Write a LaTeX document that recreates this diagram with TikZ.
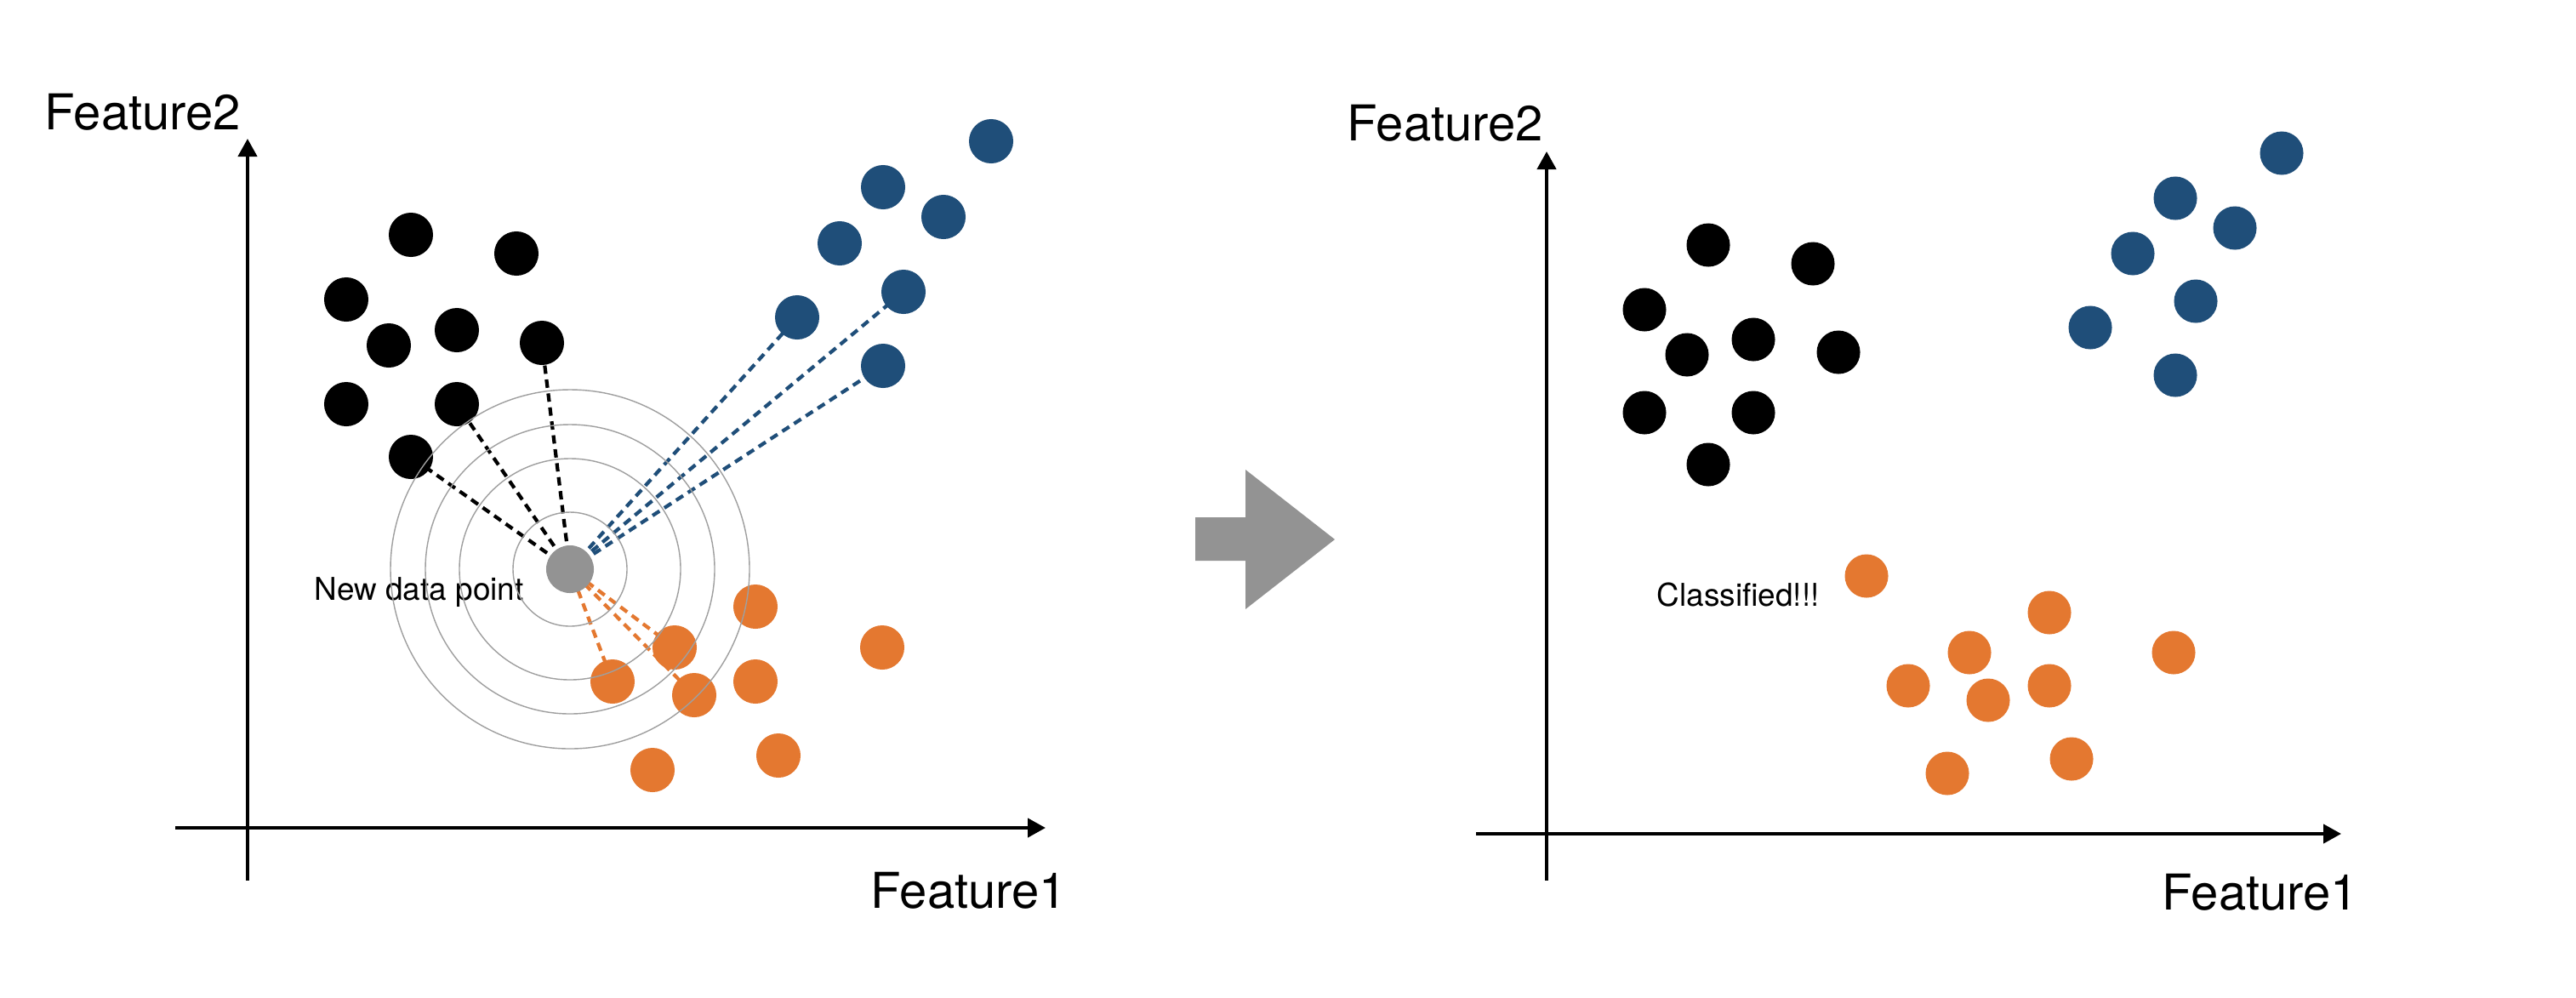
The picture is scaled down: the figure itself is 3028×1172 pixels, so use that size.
\documentclass[tikz,border=0pt]{standalone}
\usepackage{fontspec}
\setmainfont{TeX Gyre Heros}
\usetikzlibrary{arrows.meta}
\definecolor{dotblue}{HTML}{1F4E79}
\definecolor{dotorange}{HTML}{E47830}
\definecolor{ptgray}{HTML}{939393}
\begin{document}
\begin{tikzpicture}[x=0.01cm,y=-0.01cm,
  pt/.style={circle,inner sep=0pt,minimum size=0.52cm},
  kdot/.style={pt,fill=black},
  bdot/.style={pt,fill=dotblue},
  odot/.style={pt,fill=dotorange},
  rpt/.style={circle,inner sep=0pt,minimum size=0.51cm},
  rkdot/.style={rpt,fill=black},
  rbdot/.style={rpt,fill=dotblue},
  rodot/.style={rpt,fill=dotorange},
  axis/.style={line width=1.2pt,-{Triangle[length=0.21cm,width=0.22cm]}},
  knn/.style={line width=1.2pt,dash pattern=on 2.8pt off 1.9pt},
  ring/.style={gray!75,line width=0.4pt},
  biglab/.style={font=\fontsize{16.5}{18}\selectfont,inner sep=0pt,anchor=base west},
  smalllab/.style={font=\fontsize{10.5}{12}\selectfont,inner sep=0pt,anchor=base west}]
\useasboundingbox (0,0) rectangle (3028,1172);
\fill[white] (0,0) rectangle (3028,1172);

% ---------- left panel ----------
\coordinate (ly0) at (291,1035);
\coordinate (ly1) at (291,163);
\coordinate (lx0) at (206,973);
\coordinate (lx1) at (1229,973);
\draw[axis] (ly0) -- (ly1);
\draw[axis] (lx0) -- (lx1);
\node[biglab] (lf2) at (52,152) {Feature2};
\node[biglab] (lf1) at (1023,1067) {Feature1};

\coordinate (newc) at (670,669);

% data point coordinates
\coordinate (k1c) at (483,276);
\coordinate (k2c) at (607,298);
\coordinate (k3c) at (407,352);
\coordinate (k4c) at (457,406);
\coordinate (k5c) at (537,388);
\coordinate (k6c) at (637,403);
\coordinate (k7c) at (407,475);
\coordinate (k8c) at (537,475);
\coordinate (k9c) at (483,537);

% dashed neighbour links (under dots)
\draw[knn,black] (newc) -- (k9c);
\draw[knn,black] (newc) -- (k8c);
\draw[knn,black] (newc) -- (k6c);
\draw[knn,dotblue] (newc) -- (937,373) coordinate (b6c);
\draw[knn,dotblue] (newc) -- (1062,343) coordinate (b5c);
\draw[knn,dotblue] (newc) -- (1038,430) coordinate (b7c);
\draw[knn,dotorange,shorten <=0.1cm] (newc) -- (720,801) coordinate (o4c);
\draw[knn,dotorange,shorten <=0.08cm] (newc) -- (816,817) coordinate (o5c);
\draw[knn,dotorange,shorten <=0.08cm] (newc) -- (793,761) coordinate (o2c);

\node[kdot] (k1) at (k1c) {};
\node[kdot] (k2) at (k2c) {};
\node[kdot] (k3) at (k3c) {};
\node[kdot] (k4) at (k4c) {};
\node[kdot] (k5) at (k5c) {};
\node[kdot] (k6) at (k6c) {};
\node[kdot] (k7) at (k7c) {};
\node[kdot] (k8) at (k8c) {};
\node[kdot] (k9) at (k9c) {};

\node[bdot] (b1) at (1165,166) {};
\node[bdot] (b2) at (1038,220) {};
\node[bdot] (b3) at (1109,255) {};
\node[bdot] (b4) at (987,286) {};
\node[bdot] (b5) at (b5c) {};
\node[bdot] (b6) at (b6c) {};
\node[bdot] (b7) at (b7c) {};

\node[odot] (o1) at (888,713) {};
\node[odot] (o2) at (o2c) {};
\node[odot] (o3) at (1037,761) {};
\node[odot] (o4) at (o4c) {};
\node[odot] (o5) at (o5c) {};
\node[odot] (o6) at (888,801) {};
\node[odot] (o7) at (767,905) {};
\node[odot] (o8) at (915,888) {};

\node[circle,inner sep=0pt,minimum size=0.56cm,fill=ptgray] (new) at (newc) {};
\node[smalllab] (newlab) at (369,705) {New data point};

\draw[ring] (newc) circle[radius=67];
\draw[ring] (newc) circle[radius=130];
\draw[ring] (newc) circle[radius=170];
\draw[ring] (newc) circle[radius=211];

% ---------- big arrow ----------
\fill[ptgray] (1405,608) -- (1464,608) -- (1464,552) -- (1569,634) -- (1464,716) -- (1464,659) -- (1405,659) -- cycle;

% ---------- right panel ----------
\coordinate (ry0) at (1818,1035);
\coordinate (ry1) at (1818,178);
\coordinate (rx0) at (1735,980);
\coordinate (rx1) at (2752,980);
\draw[axis] (ry0) -- (ry1);
\draw[axis] (rx0) -- (rx1);
\node[biglab] (rf2) at (1583,165) {Feature2};
\node[biglab] (rf1) at (2541,1069) {Feature1};

\node[rkdot] (rk1) at (2008,288) {};
\node[rkdot] (rk2) at (2131,310) {};
\node[rkdot] (rk3) at (1933,364) {};
\node[rkdot] (rk4) at (1983,417) {};
\node[rkdot] (rk5) at (2061,399) {};
\node[rkdot] (rk6) at (2161,414) {};
\node[rkdot] (rk7) at (1933,485) {};
\node[rkdot] (rk8) at (2061,485) {};
\node[rkdot] (rk9) at (2008,546) {};

\node[rbdot] (rb1) at (2682,180) {};
\node[rbdot] (rb2) at (2557,233) {};
\node[rbdot] (rb3) at (2627,268) {};
\node[rbdot] (rb4) at (2507,298) {};
\node[rbdot] (rb5) at (2581,354) {};
\node[rbdot] (rb6) at (2457,385) {};
\node[rbdot] (rb7) at (2557,441) {};

\node[rodot] (ro1) at (2194,677) {};
\node[rodot] (ro2) at (2409,720) {};
\node[rodot] (ro3) at (2315,767) {};
\node[rodot] (ro4) at (2555,767) {};
\node[rodot] (ro5) at (2243,806) {};
\node[rodot] (ro6) at (2337,823) {};
\node[rodot] (ro7) at (2409,806) {};
\node[rodot] (ro8) at (2289,909) {};
\node[rodot] (ro9) at (2435,892) {};

\node[smalllab] (cls) at (1947,712) {Classified!!!};
\end{tikzpicture}
\end{document}
